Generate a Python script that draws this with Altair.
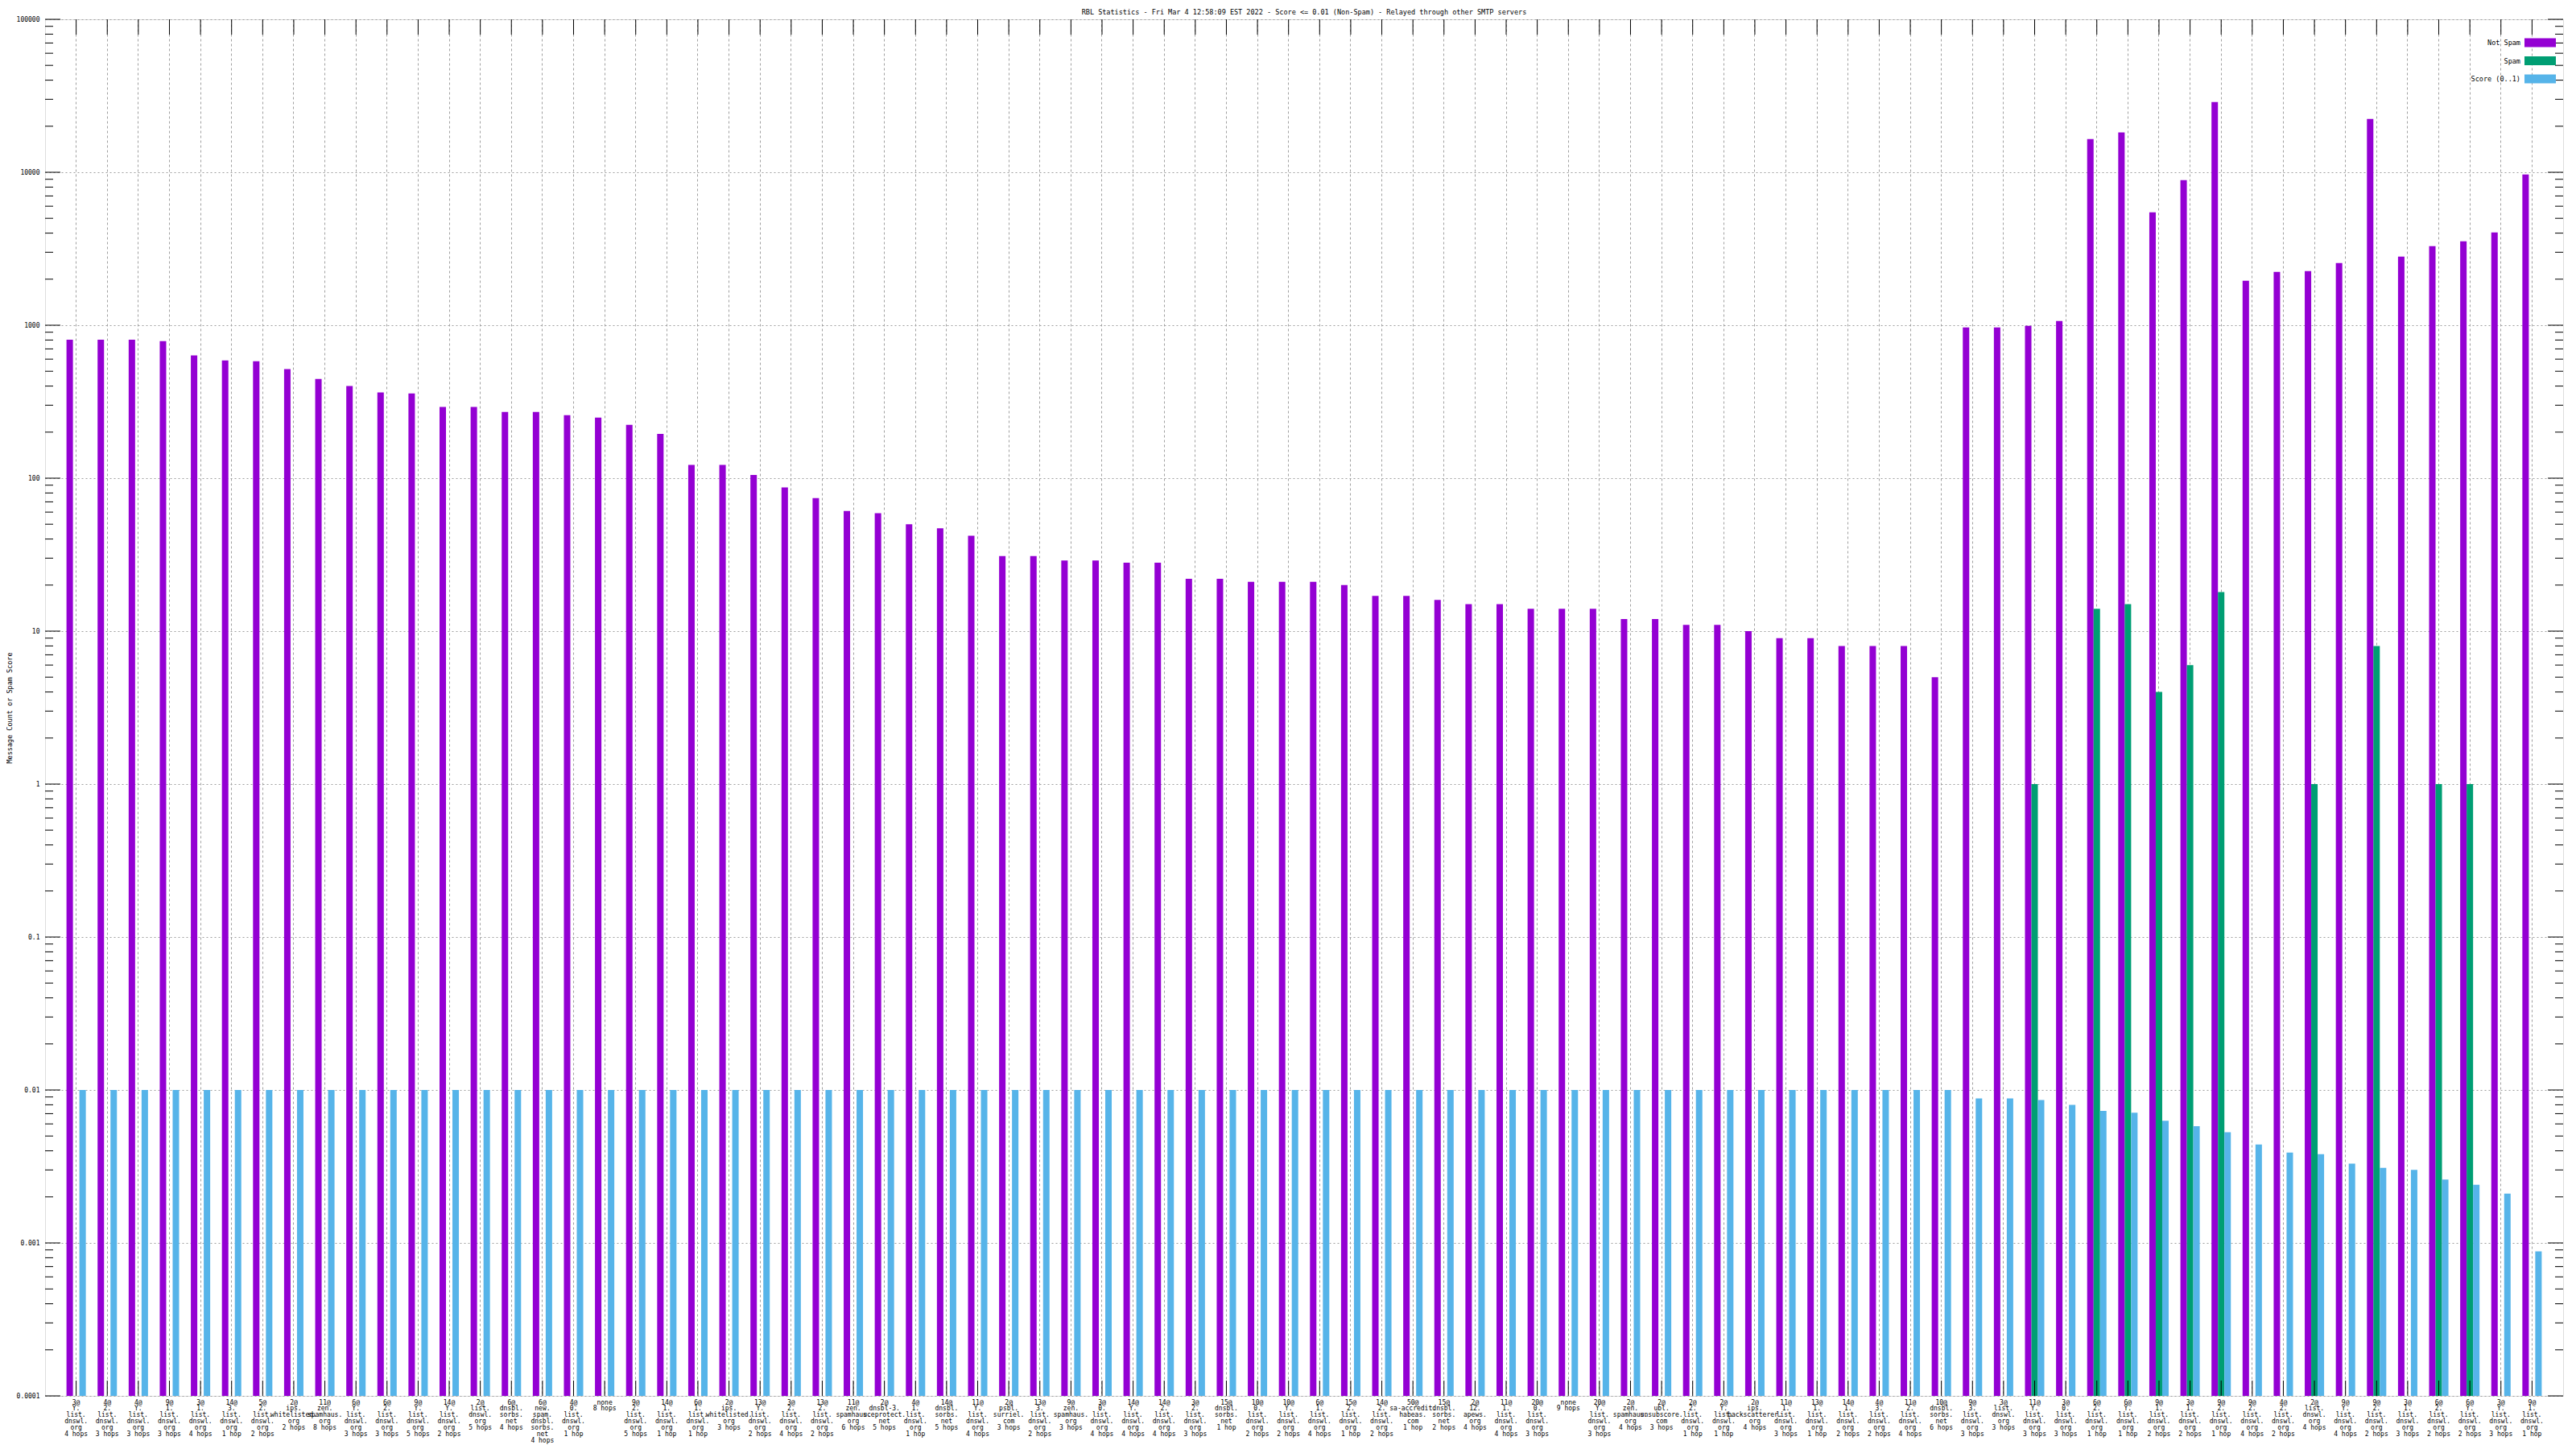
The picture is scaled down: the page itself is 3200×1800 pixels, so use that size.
import json
import altair as alt
import pandas as pd

# ---------------- data ----------------
labels = [
    "3@|Y.|list.|dnswl.|org|4 hops", "4@|2.|list.|dnswl.|org|3 hops", "4@|Y.|list.|dnswl.|org|3 hops",
    "9@|1.|list.|dnswl.|org|3 hops", "3@|1.|list.|dnswl.|org|4 hops", "14@|3.|list.|dnswl.|org|1 hop",
    "5@|2.|list.|dnswl.|org|2 hops", "2@|ips.|whitelisted.|org|2 hops", "11@|zen.|spamhaus.|org|8 hops",
    "6@|Y.|list.|dnswl.|org|3 hops", "6@|2.|list.|dnswl.|org|3 hops", "9@|Y.|list.|dnswl.|org|5 hops",
    "14@|Y.|list.|dnswl.|org|2 hops", "2@|list.|dnswl.|org|5 hops", "6@|dnsbl.|sorbs.|net|4 hops",
    "6@|new.|spam.|dnsbl.|sorbs.|net|4 hops", "4@|0.|list.|dnswl.|org|1 hop", "none|8 hops",
    "9@|2.|list.|dnswl.|org|5 hops", "14@|1.|list.|dnswl.|org|1 hop", "6@|1.|list.|dnswl.|org|1 hop",
    "2@|ips.|whitelisted.|org|3 hops", "13@|Y.|list.|dnswl.|org|2 hops", "3@|2.|list.|dnswl.|org|4 hops",
    "13@|2.|list.|dnswl.|org|2 hops", "11@|zen.|spamhaus.|org|6 hops", "2@|dnsbl-3.|uceprotect.|net|5 hops",
    "4@|1.|list.|dnswl.|org|1 hop", "14@|dnsbl.|sorbs.|net|5 hops", "11@|Y.|list.|dnswl.|org|4 hops",
    "2@|psbl.|surriel.|com|3 hops", "13@|3.|list.|dnswl.|org|2 hops", "9@|zen.|spamhaus.|org|3 hops",
    "3@|0.|list.|dnswl.|org|4 hops", "14@|Y.|list.|dnswl.|org|4 hops", "14@|2.|list.|dnswl.|org|4 hops",
    "3@|2.|list.|dnswl.|org|3 hops", "15@|dnsbl.|sorbs.|net|1 hop", "10@|0.|list.|dnswl.|org|2 hops",
    "10@|Y.|list.|dnswl.|org|2 hops", "6@|1.|list.|dnswl.|org|4 hops", "15@|2.|list.|dnswl.|org|1 hop",
    "14@|2.|list.|dnswl.|org|2 hops", "50@|sa-accredit.|habeas.|com|1 hop", "15@|dnsbl.|sorbs.|net|2 hops",
    "2@|12.|apews.|org|4 hops", "11@|1.|list.|dnswl.|org|4 hops", "20@|0.|list.|dnswl.|org|3 hops",
    "none|9 hops", "20@|Y.|list.|dnswl.|org|3 hops", "2@|zen.|spamhaus.|org|4 hops",
    "2@|ubl.|unsubscore.|com|3 hops", "2@|2.|list.|dnswl.|org|1 hop", "2@|Y.|list.|dnswl.|org|1 hop",
    "2@|ips.|backscatterer.|org|4 hops", "11@|1.|list.|dnswl.|org|3 hops", "13@|1.|list.|dnswl.|org|1 hop",
    "14@|1.|list.|dnswl.|org|2 hops", "4@|3.|list.|dnswl.|org|2 hops", "11@|2.|list.|dnswl.|org|4 hops",
    "10@|dnsbl.|sorbs.|net|6 hops", "9@|3.|list.|dnswl.|org|3 hops", "3@|list.|dnswl.|org|3 hops",
    "11@|Y.|list.|dnswl.|org|3 hops", "3@|0.|list.|dnswl.|org|3 hops", "6@|2.|list.|dnswl.|org|1 hop",
    "6@|Y.|list.|dnswl.|org|1 hop", "9@|1.|list.|dnswl.|org|2 hops", "3@|1.|list.|dnswl.|org|2 hops",
    "9@|2.|list.|dnswl.|org|1 hop", "9@|2.|list.|dnswl.|org|4 hops", "4@|2.|list.|dnswl.|org|2 hops",
    "2@|list.|dnswl.|org|4 hops", "9@|Y.|list.|dnswl.|org|4 hops", "9@|2.|list.|dnswl.|org|2 hops",
    "3@|1.|list.|dnswl.|org|3 hops", "6@|2.|list.|dnswl.|org|2 hops", "6@|Y.|list.|dnswl.|org|2 hops",
    "3@|Y.|list.|dnswl.|org|3 hops", "9@|1.|list.|dnswl.|org|1 hop",
]

not_spam = [
    805, 805, 805, 788, 634, 589, 582, 516, 446, 400,
    363, 358, 292, 292, 271, 271, 258, 249, 223, 195,
    122, 122, 105, 87, 74, 61, 59, 50, 47, 42,
    31, 31, 29, 29, 28, 28, 22, 22, 21, 21,
    21, 20, 17, 17, 16, 15, 15, 14, 14, 14,
    12, 12, 11, 11, 10, 9, 9, 8, 8, 8,
    5, 968, 968, 991, 1067, 16500, 18200, 5480, 8890, 28800,
    1954, 2233, 2260, 2551, 22340, 2812, 3294, 3542, 4045, 9680,
]

spam = [0] * 63 + [1, 0, 14, 15, 4, 6, 18, 0, 0, 1, 0, 8, 0, 1, 1, 0, 0]

score = [0.01] * 61 + [
    0.0088, 0.0088, 0.0086, 0.0080, 0.0073, 0.0071, 0.0063, 0.0058, 0.0053, 0.0044,
    0.0039, 0.0038, 0.0033, 0.0031, 0.0030, 0.0026, 0.0024, 0.0021, 0.00088,
]

series = ["Not Spam", "Spam", "Score (0..1)"]
colors = ["#9400d3", "#009e73", "#56b4e9"]

y_major = [0.0001, 0.001, 0.01, 0.1, 1, 10, 100, 1000, 10000, 100000]
y_minor = [m * d for d in y_major[:-1] for m in range(2, 10)]
y_base = y_major[0]

title_text = ("RBL Statistics - Fri Mar  4 12:58:09 EST 2022 - Score <= 0.01 (Non-Spam) "
              "- Relayed through other SMTP servers")

# ---------------- tables ----------------
rows = []
for i in range(len(labels)):
    for s, vals in zip(series, [not_spam, spam, score]):
        rows.append({"idx": i, "series": s, "value": vals[i], "base": y_base})
df = pd.DataFrame(rows)
major_df = pd.DataFrame({"v": y_major})
minor_df = pd.DataFrame({"v": y_minor})
idx_df = pd.DataFrame({"idx": list(range(len(labels)))})

# ---------------- styling ----------------
W, H = 3128, 1710
FONT = "DejaVu Sans Mono"
GRID = "#a0a0a0"

label_expr = "split(" + json.dumps(labels) + "[datum.value], '|')"

xaxis = alt.Axis(
    title=None, labelExpr=label_expr, labelAngle=0, labelAlign="center", labelBaseline="top",
    labelPadding=4, labelLineHeight=7.9, labelFont=FONT, labelFontSize=8, labelColor="black",
    labelOverlap=False, ticks=False, domain=False, grid=True, gridColor=GRID,
    gridDash=[3, 3], gridWidth=1, bandPosition=0.5,
)
xscale = alt.Scale(paddingInner=0, paddingOuter=0.5)
xenc = alt.X("idx:O", scale=xscale, axis=xaxis)

yscale = alt.Scale(type="log", domain=[0.0001, 100000], nice=False)
yaxis = alt.Axis(
    values=y_major, format="~g", ticks=False, domain=False, grid=True, gridColor=GRID,
    gridDash=[2, 3], gridWidth=1, labelFont=FONT, labelFontSize=8, labelColor="black",
    labelPadding=7, title="Message Count or Spam Score", titleFont=FONT, titleFontSize=8.5,
    titleFontWeight="normal", titleColor="black", titlePadding=4,
)

legend = alt.Legend(
    title=None, orient="none", legendX=3086.5, legendY=16, direction="vertical",
    symbolType="M-1.5,-0.423H1.5V0.423H-1.5Z", symbolSize=676, symbolStrokeWidth=0,
    symbolOpacity=1, labelAlign="right", labelOffset={"expr": "-37.5"}, labelFont=FONT,
    labelFontSize=8.5, labelColor="black", rowPadding=3.5, padding=0, offset=0,
)

bars = alt.Chart(df).transform_filter("datum.value > 0").mark_bar().encode(
    x=xenc,
    xOffset=alt.XOffset("series:N", scale=alt.Scale(domain=series, paddingInner=0, paddingOuter=0.91)),
    y=alt.Y("value:Q", scale=yscale, axis=yaxis),
    y2="base:Q",
    color=alt.Color("series:N", scale=alt.Scale(domain=series, range=colors), legend=legend),
)


def yticks(d, x1, x2):
    return alt.Chart(d).mark_rule(color="black", strokeWidth=1).encode(
        y=alt.Y("v:Q", scale=yscale, axis=yaxis), x=alt.value(x1), x2=alt.value(x2)
    )


def xticks(y1, y2):
    return alt.Chart(idx_df).mark_rule(color="black", strokeWidth=1).encode(
        x=xenc, y=alt.value(y1), y2=alt.value(y2)
    )


layers = [
    bars,
    yticks(major_df, 0, 19), yticks(minor_df, 0, 10),
    yticks(major_df, W, W - 19), yticks(minor_df, W, W - 10),
    xticks(0, 19), xticks(H, H - 19),
]

chart = alt.layer(*layers).properties(
    width=W, height=H,
    title=alt.Title(title_text, font=FONT, fontSize=8.5, fontWeight="normal", color="black",
                    offset=1, anchor="middle"),
    autosize=alt.AutoSizeParams(type="none"),
    padding={"left": 48, "top": 16, "right": 8, "bottom": 64},
).configure_view(stroke="black", strokeWidth=1).configure(background="white")

chart.save("out.html", embed_options={"renderer": "svg", "actions": False})
